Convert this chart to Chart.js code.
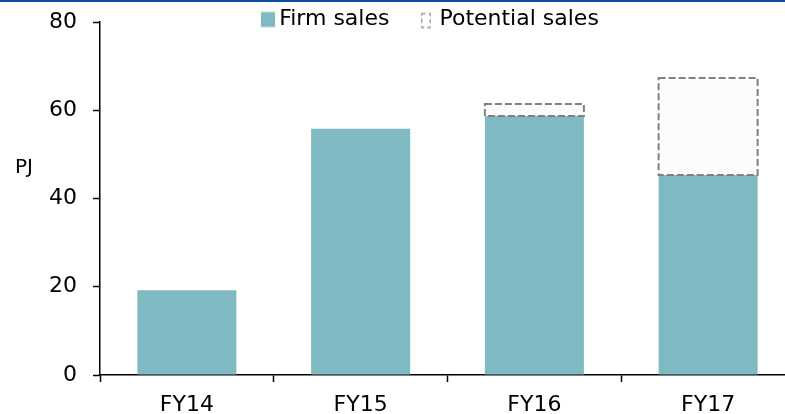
<!DOCTYPE html>
<html>
<head>
<meta charset="utf-8">
<script src="https://cdn.jsdelivr.net/npm/chart.js@4.4.0/dist/chart.umd.min.js"></script>
<style>
  html, body { margin: 0; padding: 0; overflow: hidden; background: #fff; }
  #wrap { position: relative; width: 785px; height: 414px; overflow: hidden; }
  #topline { position: absolute; left: 0; top: 0; width: 100%; height: 2px; background: #0b4f9e; z-index: 2; }
  #unit { position: absolute; left: 15px; top: 156px; font: 20px/20px "DejaVu Sans", sans-serif; color: #000; }
  canvas { position: absolute; left: 0; top: 0; }
</style>
</head>
<body>
<div id="wrap">
  <div id="topline"></div>
  <canvas id="chart" width="800" height="414"></canvas>
  <div id="unit">PJ</div>
</div>
<script>
const categories = ['FY14', 'FY15', 'FY16', 'FY17'];
const firmSales = [19.2, 55.8, 58.7, 45.3];
const potentialSales = [0, 0, 2.7, 22.0];
const yTicks = [0, 20, 40, 60, 80];

const FONT = '"DejaVu Sans", Verdana, sans-serif';
const FIRM = '#7fb9c1';

function makeIcon(draw) {
  const c = document.createElement('canvas');
  c.width = 14;
  c.height = 19;
  draw(c.getContext('2d'));
  return c;
}
const firmIcon = makeIcon(ctx => {
  ctx.fillStyle = FIRM;
  ctx.fillRect(0, 2.5, 14, 15);
});
const potIcon = makeIcon(ctx => {
  ctx.strokeStyle = '#a0a0a0';
  ctx.lineWidth = 1.5;
  ctx.setLineDash([4, 3]);
  ctx.strokeRect(0.75, 4.25, 8.5, 13.5);
});

// dashed outline for the potential bars (bar element has no borderDash)
const dashedOutline = {
  id: 'dashedOutline',
  afterDatasetsDraw(chart) {
    const meta = chart.getDatasetMeta(1);
    const ctx = chart.ctx;
    ctx.save();
    ctx.strokeStyle = '#808080';
    ctx.lineWidth = 2;
    ctx.setLineDash([7, 3]);
    meta.data.forEach((bar, i) => {
      if (!potentialSales[i]) return;
      const { x, y, base, width } = bar.getProps(['x', 'y', 'base', 'width'], true);
      ctx.strokeRect(x - width / 2, y, width, base - y);
    });
    ctx.restore();
  }
};

// legend sits a bit right of centre and overlaps the top of the plot
const legendPlacer = {
  id: 'legendPlacer',
  afterLayout(chart) {
    const lg = chart.legend;
    lg.top = -30;
    lg.bottom = 45;
    lg.height = lg.bottom - lg.top;
    lg.left = 71;
    lg.right = 795;
  }
};

new Chart(document.getElementById('chart'), {
  type: 'bar',
  data: {
    labels: categories,
    datasets: [
      {
        label: 'Firm sales',
        data: firmSales,
        backgroundColor: FIRM,
        borderWidth: 0,
        barPercentage: 0.57,
        categoryPercentage: 1
      },
      {
        label: 'Potential sales',
        data: potentialSales,
        backgroundColor: '#fdfcfa',
        borderWidth: 0,
        barPercentage: 0.57,
        categoryPercentage: 1
      }
    ]
  },
  options: {
    responsive: false,
    animation: false,
    layout: { padding: { top: 0, left: 0, right: 5, bottom: 0 } },
    plugins: {
      tooltip: { enabled: false },
      legend: {
        position: 'top',
        align: 'center',
        maxHeight: 22,
        labels: {
          color: '#000',
          font: { family: FONT, size: 22 },
          padding: 38,
          usePointStyle: true,
          pointStyleWidth: 1,
          generateLabels(chart) {
            const items = Chart.defaults.plugins.legend.labels.generateLabels(chart);
            items[0].pointStyle = firmIcon;
            items[1].pointStyle = potIcon;
            return items;
          }
        }
      }
    },
    scales: {
      x: {
        stacked: true,
        offset: true,
        grid: { offset: true, drawOnChartArea: false, tickLength: 7, tickColor: '#000', tickWidth: 1.5 },
        border: { color: '#000', width: 1.5 },
        ticks: { color: '#000', font: { family: FONT, size: 22 }, padding: 10 },
        afterFit(s) { s.height = 39; }
      },
      y: {
        stacked: true,
        min: yTicks[0],
        max: yTicks[yTicks.length - 1],
        grid: { drawOnChartArea: false, tickLength: 7, tickColor: '#000', tickWidth: 1.5 },
        border: { color: '#000', width: 1.5 },
        ticks: { stepSize: 20, color: '#000', font: { family: FONT, size: 22 }, padding: 16 },
        afterFit(s) {
          s.width = 100;
          s.paddingTop = 10;
          s.paddingBottom = 10;
        }
      }
    }
  },
  plugins: [dashedOutline, legendPlacer]
});
</script>
</body>
</html>
